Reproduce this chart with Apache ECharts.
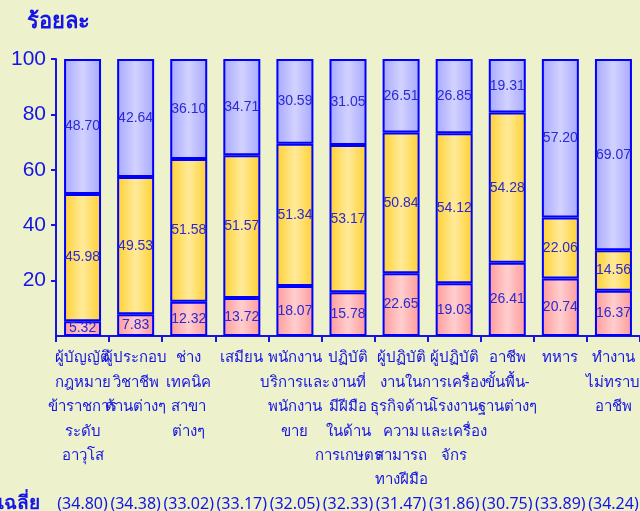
<!DOCTYPE html>
<html>
<head>
<meta charset="utf-8">
<script src="https://cdn.jsdelivr.net/npm/echarts@6/dist/echarts.min.js"></script>
<style>
html,body{margin:0;padding:0;background:#eef2cc;}
#main{width:640px;height:511px;}
</style>
</head>
<body>
<div id="main"></div>
<script>
var categories = [
  "ผู้บัญญัติ\nกฎหมาย\nข้าราชการ\nระดับ\nอาวุโส",
  "ผู้ประกอบ\nวิชาชีพ\nด้านต่างๆ",
  "ช่าง\nเทคนิค\nสาขา\nต่างๆ",
  "เสมียน",
  "พนักงาน\nบริการและ\nพนักงาน\nขาย",
  "ปฏิบัติ\nงานที่\nมีฝีมือ\nในด้าน\nการเกษตร",
  "ผู้ปฏิบัติ\nงานใน\nธุรกิจด้าน\nความ\nสามารถ\nทางฝีมือ",
  "ผู้ปฏิบัติ\nการเครื่อง\nโรงงาน\nและเครื่อง\nจักร",
  "อาชีพ\nขั้นพื้น-\nฐานต่างๆ",
  "ทหาร",
  "ทำงาน\nไม่ทราบ\nอาชีพ"
];
var pinkValues = [5.32, 7.83, 12.32, 13.72, 18.07, 15.78, 22.65, 19.03, 26.41, 20.74, 16.37];
var yellowValues = [45.98, 49.53, 51.58, 51.57, 51.34, 53.17, 50.84, 54.12, 54.28, 22.06, 14.56];
var lavenderValues = [48.70, 42.64, 36.10, 34.71, 30.59, 31.05, 26.51, 26.85, 19.31, 57.20, 69.07];
var averageAges = ["(34.80)", "(34.38)", "(33.02)", "(33.17)", "(32.05)", "(32.33)", "(31.47)", "(31.86)", "(30.75)", "(33.89)", "(34.24)"];
var yTicks = [0, 20, 40, 60, 80, 100];

var BLUE = '#1414e6';
var FONT = 'Tahoma, "Noto Sans", "DejaVu Sans", sans-serif';

function grad(edge, mid) {
  return new echarts.graphic.LinearGradient(0, 0, 1, 0, [
    {offset: 0, color: edge},
    {offset: 0.5, color: mid},
    {offset: 1, color: edge}
  ]);
}

function mkSeries(name, data, color) {
  return {
    name: name,
    type: 'bar',
    stack: 'total',
    barWidth: 37,
    data: data,
    itemStyle: {color: color, borderColor: '#0000ff', borderWidth: 2},
    label: {
      show: true,
      position: 'inside',
      color: '#2a2ad0',
      fontFamily: 'Arial, "Liberation Sans", sans-serif',
      fontSize: 14,
      formatter: function (p) { return p.value.toFixed(2); }
    }
  };
}

var chart = echarts.init(document.getElementById('main'));
chart.setOption({
  backgroundColor: '#eef2cc',
  animation: false,
  title: {
    text: 'ร้อยละ',
    left: 22, top: 6,
    textStyle: {color: BLUE, fontSize: 22, fontWeight: 'bold', fontFamily: FONT}
  },
  grid: {left: 56, top: 59, width: 584, height: 277, containLabel: false, outerBoundsMode: 'none'},
  xAxis: [{
    type: 'category',
    data: categories,
    axisLine: {lineStyle: {color: BLUE, width: 2}},
    axisTick: {show: true, length: 6, lineStyle: {color: BLUE, width: 2}},
    axisLabel: {interval: 0, color: BLUE, fontSize: 15, lineHeight: 24.4, margin: 10, fontFamily: FONT}
  }, {
    type: 'category',
    position: 'bottom',
    offset: 154,
    data: averageAges,
    axisLine: {show: false},
    axisTick: {show: false},
    axisLabel: {interval: 0, color: BLUE, fontSize: 16, margin: 6, fontFamily: FONT}
  }],
  yAxis: {
    type: 'value',
    min: yTicks[0], max: yTicks[yTicks.length - 1], interval: 20,
    splitLine: {show: false},
    axisLine: {show: true, lineStyle: {color: BLUE, width: 2}},
    axisTick: {show: true, length: 5, lineStyle: {color: BLUE, width: 2}},
    axisLabel: {
      showMinLabel: false,
      color: BLUE, fontSize: 21, margin: 10,
      fontFamily: 'Arial, "Liberation Sans", sans-serif',
      formatter: function (v) { return v === 0 ? '' : String(v); }
    }
  },
  graphic: [{
    type: 'text',
    right: 600, top: 494,
    style: {text: 'อายุเฉลี่ย', fill: BLUE, font: 'bold 19px ' + FONT}
  }],
  series: [
    mkSeries('pink', pinkValues, grad('#ff9a9a', '#ffcece')),
    mkSeries('yellow', yellowValues, grad('#ffd030', '#ffea9a')),
    mkSeries('lavender', lavenderValues, grad('#a8a8ff', '#d2d2ff'))
  ]
});
</script>
</body>
</html>
